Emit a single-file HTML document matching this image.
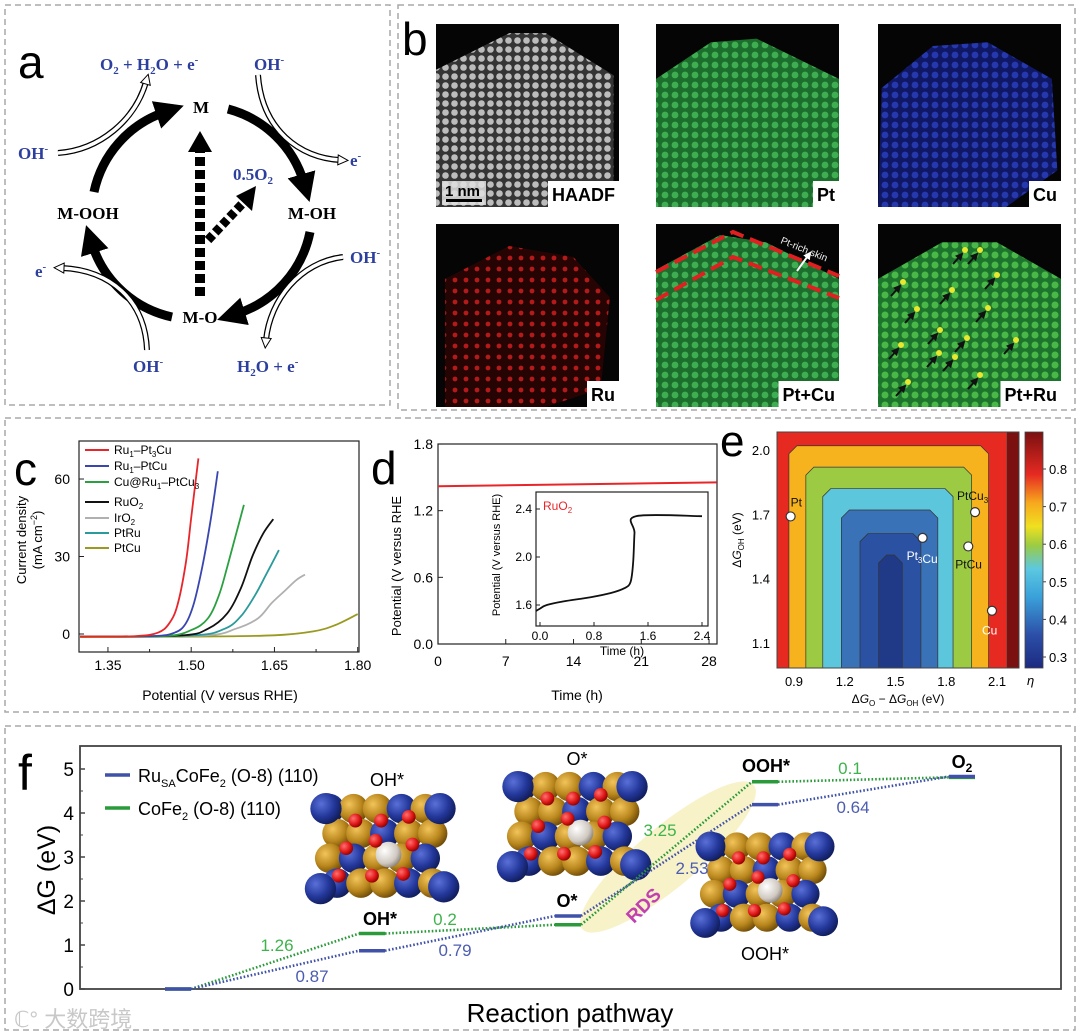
<!DOCTYPE html>
<html><head><meta charset="utf-8">
<style>
html,body{margin:0;padding:0;background:#fff;}
svg{display:block;font-family:"Liberation Sans",sans-serif;}
.ser{font-family:"Liberation Serif",serif;font-weight:bold;}
</style></head>
<body>
<svg id="fig" width="1080" height="1036" viewBox="0 0 1080 1036" xmlns="http://www.w3.org/2000/svg">
<defs>
  <marker id="blackHead" markerWidth="3.2" markerHeight="3.2" refX="1" refY="1.6" orient="auto" markerUnits="strokeWidth"><path d="M0,0 L3.2,1.6 L0,3.2 Z" fill="#000"/></marker>
  <marker id="hollowHead" markerWidth="12" markerHeight="12" refX="3" refY="6" orient="auto" markerUnits="userSpaceOnUse"><path d="M1,1 L11,6 L1,11 Z" fill="#fff" stroke="#000" stroke-width="1"/></marker>
  <marker id="smallBlack" markerWidth="8" markerHeight="8" refX="6" refY="4" orient="auto" markerUnits="userSpaceOnUse"><path d="M0,0 L8,4 L0,8 Z" fill="#111"/></marker>
  <marker id="smallWhite" markerWidth="8" markerHeight="8" refX="6" refY="4" orient="auto" markerUnits="userSpaceOnUse"><path d="M0,0 L8,4 L0,8 Z" fill="#fff"/></marker>
  <pattern id="pGrey" width="9" height="9" patternUnits="userSpaceOnUse"><rect width="9" height="9" fill="#3a3a3a"/><circle cx="4.5" cy="4.5" r="3.3" fill="#d0d0d0"/></pattern>
  <pattern id="pGreen" width="10" height="10" patternUnits="userSpaceOnUse"><rect width="10" height="10" fill="#1f7a30"/><circle cx="5" cy="5" r="3.4" fill="#45c15a"/></pattern>
  <pattern id="pGreen2" width="10" height="10" patternUnits="userSpaceOnUse"><rect width="10" height="10" fill="#208030"/><circle cx="5" cy="5" r="3.5" fill="#52cc50"/></pattern>
  <pattern id="pBlue" width="10" height="10" patternUnits="userSpaceOnUse"><rect width="10" height="10" fill="#111a70"/><circle cx="5" cy="5" r="3.4" fill="#2a3ec0"/></pattern>
  <pattern id="pRed" width="11" height="11" patternUnits="userSpaceOnUse"><rect width="11" height="11" fill="#2a0404"/><circle cx="4" cy="5" r="2.4" fill="#c81c1c"/></pattern>
  <radialGradient id="gGold" cx="0.35" cy="0.35" r="0.7"><stop offset="0" stop-color="#f2c45a"/><stop offset="0.6" stop-color="#b8861c"/><stop offset="1" stop-color="#6e4a08"/></radialGradient>
  <radialGradient id="gBlue" cx="0.35" cy="0.35" r="0.7"><stop offset="0" stop-color="#5a70d8"/><stop offset="0.6" stop-color="#23379a"/><stop offset="1" stop-color="#101c58"/></radialGradient>
  <radialGradient id="gRed" cx="0.35" cy="0.35" r="0.7"><stop offset="0" stop-color="#ff7070"/><stop offset="0.6" stop-color="#e01818"/><stop offset="1" stop-color="#8a0000"/></radialGradient>
  <radialGradient id="gWhite" cx="0.35" cy="0.35" r="0.7"><stop offset="0" stop-color="#ffffff"/><stop offset="0.7" stop-color="#cfc8c0"/><stop offset="1" stop-color="#8a847c"/></radialGradient>
  <linearGradient id="cbGrad" x1="0" y1="1" x2="0" y2="0">
    <stop offset="0" stop-color="#1c2a80"/><stop offset="0.14" stop-color="#2c4fa8"/><stop offset="0.3" stop-color="#3aa0da"/>
    <stop offset="0.42" stop-color="#5cc8e0"/><stop offset="0.52" stop-color="#9ccb43"/><stop offset="0.6" stop-color="#f0e020"/>
    <stop offset="0.7" stop-color="#f7a81e"/><stop offset="0.82" stop-color="#e62a22"/><stop offset="1" stop-color="#7a1010"/>
  </linearGradient>
</defs>

<g fill="none" stroke="#a8a8a8" stroke-width="1.5" stroke-dasharray="6,4">
  <rect x="5" y="5" width="385" height="400"/>
  <rect x="398" y="5" width="677" height="405"/>
  <rect x="5" y="418" width="1070" height="294"/>
  <rect x="5" y="726" width="1070" height="304"/>
</g>

<!-- ============ PANEL A ============ -->
<g>
  <text x="18" y="78" font-size="46">a</text>
  <g fill="none" stroke="#000" stroke-width="9" marker-end="url(#blackHead)">
    <path d="M94,192 A108,108 0 0 1 165,112"/>
    <path d="M228,109 A108,108 0 0 1 304,183"/>
    <path d="M310,232 A108,108 0 0 1 236,314"/>
    <path d="M172,317 A108,108 0 0 1 92,244"/>
  </g>
  <g fill="none">
    <g><path d="M58,153 C100,150 135,120 146,82" stroke="#000" stroke-width="6"/><path d="M58,153 C100,150 135,120 146,82" stroke="#fff" stroke-width="3.5" marker-end="url(#hollowHead)"/></g>
    <g><path d="M258,75 C262,130 300,158 340,160" stroke="#000" stroke-width="6"/><path d="M258,75 C262,130 300,158 340,160" stroke="#fff" stroke-width="3.5" marker-end="url(#hollowHead)"/></g>
    <g><path d="M343,257 C300,262 270,300 266,340" stroke="#000" stroke-width="6"/><path d="M343,257 C300,262 270,300 266,340" stroke="#fff" stroke-width="3.5" marker-end="url(#hollowHead)"/></g>
    <g><path d="M147,350 C145,300 110,270 62,268" stroke="#000" stroke-width="6"/><path d="M147,350 C145,300 110,270 62,268" stroke="#fff" stroke-width="3.5" marker-end="url(#hollowHead)"/></g>
  </g>
  <line x1="200" y1="296" x2="200" y2="152" stroke="#000" stroke-width="10" stroke-dasharray="9,4"/>
  <path d="M188,152 L212,152 L200,131 Z" fill="#000"/>
  <line x1="208" y1="240" x2="243" y2="203" stroke="#000" stroke-width="9" stroke-dasharray="7,3.5"/>
  <path d="M236,196 L252,211 L256,186 Z" fill="#000"/>
  <g class="ser" font-size="17" fill="#000" text-anchor="middle">
    <text x="201" y="113">M</text>
    <text x="312" y="219">M-OH</text>
    <text x="200" y="323">M-O</text>
    <text x="88" y="219">M-OOH</text>
  </g>
  <g class="ser" font-size="17" fill="#2c3f9e">
    <text x="100" y="70">O<tspan font-size="11" dy="4">2</tspan><tspan dy="-4"> + H</tspan><tspan font-size="11" dy="4">2</tspan><tspan dy="-4">O + e</tspan><tspan font-size="11" dy="-7">-</tspan></text>
    <text x="254" y="70">OH<tspan font-size="11" dy="-7">-</tspan></text>
    <text x="18" y="159">OH<tspan font-size="11" dy="-7">-</tspan></text>
    <text x="350" y="166">e<tspan font-size="11" dy="-7">-</tspan></text>
    <text x="233" y="180">0.5O<tspan font-size="11" dy="4">2</tspan></text>
    <text x="350" y="263">OH<tspan font-size="11" dy="-7">-</tspan></text>
    <text x="35" y="277">e<tspan font-size="11" dy="-7">-</tspan></text>
    <text x="133" y="372">OH<tspan font-size="11" dy="-7">-</tspan></text>
    <text x="237" y="372">H<tspan font-size="11" dy="4">2</tspan><tspan dy="-4">O + e</tspan><tspan font-size="11" dy="-7">-</tspan></text>
  </g>
</g>

<g id="panelB">
  <text x="402" y="55" font-size="46">b</text>
</g>

<g id="panelC"></g>
<g id="panelD"></g>
<g id="panelE"></g>
<g id="panelF"></g>

<text x="14" y="1027" font-size="22" fill="#c8c8c8" font-family="'Liberation Sans','Noto Sans CJK SC',sans-serif">ℂ° 大数跨境</text>
</svg>

<script>
// ---------- Panel c data ----------
const cSeriesNames = ["Ru1-Pt3Cu","Ru1-PtCu","Cu@Ru1-PtCu3","RuO2","IrO2","PtRu","PtCu"];
const cRedV   = [1.30,1.40,1.44,1.46,1.475,1.49,1.50,1.513];
const cRedJ   = [-1,-0.8,0.5,4,11,27,45,68];
const cBlueV  = [1.30,1.43,1.47,1.49,1.505,1.52,1.535,1.548];
const cBlueJ  = [-1,-0.8,0.5,4,12,26,44,63];
const cGreenV = [1.30,1.45,1.50,1.53,1.55,1.565,1.58,1.595];
const cGreenJ = [-1,-0.8,1.5,6,15,26,38,50];
const cBlackV = [1.30,1.48,1.53,1.565,1.59,1.61,1.63,1.648];
const cBlackJ = [-1,-0.6,2,8,18,30,39,44.5];
const cTealV  = [1.30,1.50,1.56,1.59,1.615,1.635,1.658];
const cTealJ  = [-1,-0.6,2,7,15,23,32.5];
const cGreyV  = [1.30,1.52,1.58,1.62,1.645,1.67,1.69,1.705];
const cGreyJ  = [-1,-0.6,2,6,12,17,21,23];
const cOliveV = [1.30,1.50,1.65,1.72,1.76,1.80];
const cOliveJ = [-1.2,-1,-0.5,1,3.5,7.7];
const cXTicks = [1.35,1.50,1.65,1.80];
const cYTicks = [0,30,60];
// ---------- Panel d data ----------
const dTime = [0,28.8];
const dPot  = [1.42,1.455];
const dXTicks = [0,7,14,21,28];
const dYTicks = [0.0,0.6,1.2,1.8];
const dInsetT = [-0.06,0.0,0.1,0.35,0.75,1.05,1.25,1.34,1.38,1.40,1.42,2.4];
const dInsetE = [1.55,1.57,1.60,1.63,1.665,1.70,1.74,1.79,1.95,2.2,2.34,2.34];
const dInsetXTicks = [0.0,0.8,1.6,2.4];
const dInsetYTicks = [1.6,2.0,2.4];
// ---------- Panel e data ----------
const eBandEta  = [0.9,0.7,0.6,0.5,0.4,0.35,0.3];
const eBandX0   = [2.16,0.87,0.97,1.07,1.18,1.29,1.40];
const eBandX1   = [2.35,2.05,1.95,1.84,1.75,1.65,1.54];
const eBandTop  = [2.09,2.02,1.92,1.82,1.72,1.61,1.51];
const ePtNames  = ["Pt","PtCu3","Pt3Cu","PtCu","Cu"];
const ePtX      = [0.88,1.97,1.66,1.93,2.07];
const ePtY      = [1.69,1.71,1.59,1.55,1.25];
const eXTicks = [0.9,1.2,1.5,1.8,2.1];
const eYTicks = [1.1,1.4,1.7,2.0];
const eCbTicks = [0.3,0.4,0.5,0.6,0.7,0.8];
// ---------- Panel f data ----------
const fStates = ["*","OH*","O*","OOH*","O2"];
const fGreen  = [0,1.26,1.46,4.71,4.81];
const fBlue   = [0,0.87,1.66,4.19,4.83];
const fGreenSteps = ["1.26","0.2","3.25","0.1"];
const fBlueSteps  = ["0.87","0.79","2.53","0.64"];
const fYTicks = [0,1,2,3,4,5];

const NS='http://www.w3.org/2000/svg';
function mk(tag, attrs, parent){ const e=document.createElementNS(NS,tag); for(const k in attrs) e.setAttribute(k,attrs[k]); parent.appendChild(e); return e; }
function smooth(pts){ let d=`M${pts[0][0]},${pts[0][1]}`; for(let i=0;i<pts.length-1;i++){const p0=pts[i-1]||pts[i],p1=pts[i],p2=pts[i+1],p3=pts[i+2]||p2; const c1=[p1[0]+(p2[0]-p0[0])/6,p1[1]+(p2[1]-p0[1])/6]; const c2=[p2[0]-(p3[0]-p1[0])/6,p2[1]-(p3[1]-p1[1])/6]; d+=` C${c1[0].toFixed(1)},${c1[1].toFixed(1)} ${c2[0].toFixed(1)},${c2[1].toFixed(1)} ${p2[0].toFixed(1)},${p2[1].toFixed(1)}`;} return d;}
function txt(parent, x, y, s, size, extra){ const t=mk('text',Object.assign({x:x,y:y,'font-size':size},extra||{}),parent); t.innerHTML=s; return t; }

// ================= PANEL B =================
(function(){
  const B=document.getElementById('panelB');
  const cols=[436,656,878], rows=[24,224], W=183, H=183;
  const imgs=[
    {n:'HAADF',f:'url(#pGrey)',r:0,c:0,shape:[[0,0.25],[0.4,0.05],[0.6,0.05],[0.97,0.28],[0.97,1],[0,1]]},
    {n:'Pt',f:'url(#pGreen)',r:0,c:1,shape:[[0,0.3],[0.3,0.1],[0.55,0.08],[1,0.3],[1,1],[0,1]]},
    {n:'Cu',f:'url(#pBlue)',r:0,c:2,shape:[[0.02,0.35],[0.3,0.12],[0.6,0.1],[0.95,0.3],[0.98,0.8],[0.7,1],[0,1]]},
    {n:'Ru',f:'url(#pRed)',r:1,c:0,shape:[[0.05,0.3],[0.4,0.12],[0.75,0.18],[0.95,0.4],[0.9,0.9],[0.6,1],[0.05,1]]},
    {n:'Pt+Cu',f:'url(#pGreen)',r:1,c:1,shape:[[0,0.25],[0.35,0.06],[0.6,0.1],[1,0.3],[1,1],[0,1]]},
    {n:'Pt+Ru',f:'url(#pGreen2)',r:1,c:2,shape:[[0,0.3],[0.35,0.1],[0.65,0.1],[1,0.3],[1,1],[0,1]]}
  ];
  imgs.forEach(im=>{
    const x=cols[im.c], y=rows[im.r];
    const g=mk('g',{},B);
    
    
    mk('rect',{x:x,y:y,width:W,height:H,fill:'#050505'},g);
    mk('polygon',{points:im.shape.map(p=>`${x+p[0]*W},${y+p[1]*H}`).join(' '),fill:im.f,opacity:0.9},g);
    const box=mk('rect',{x:x+W-40,y:y+H-26,width:40,height:26,fill:'#fff'},g);
    const t=txt(g,x+W-4,y+H-6,im.n,18,{'font-weight':'bold','text-anchor':'end'});
    
    
    let w=40; try{ w=t.getComputedTextLength()+8; }catch(e){}
    box.setAttribute('x',x+W-w); box.setAttribute('width',w);
  });
  const sb=mk('g',{},B);
  
  
  mk('rect',{x:442,y:181,width:44,height:24,fill:'#e0e0e0',opacity:0.85},sb);
  txt(sb,445,196,'1 nm',15,{'font-weight':'bold'});
  mk('rect',{x:446,y:199,width:36,height:3,fill:'#000'},sb);
  const sk=mk('g',{fill:'none',stroke:'#e02020','stroke-width':4,'stroke-dasharray':'14,7'},B);
  
  
  mk('polyline',{points:'656,272 733,232 839,276'},sk);
  mk('polyline',{points:'656,300 733,257 839,298'},sk);
  const ar=mk('line',{x1:797,y1:271,x2:810,y2:253,stroke:'#fff','stroke-width':2,'marker-end':'url(#smallWhite)'},B);
  
  
  const skt=txt(B,780,243,'Pt-rich skin',10,{fill:'#eee',transform:'rotate(22 780 243)'});
  
  
  const spots=[[965,250],[980,250],[997,275],[903,282],[952,290],[988,308],[917,309],[940,330],[967,338],[901,345],[939,353],[955,357],[1016,340],[908,382],[980,375]];
  spots.forEach(s=>{ const c=mk('circle',{cx:s[0],cy:s[1],r:3,fill:'#e8e830'},B);
    
    
    const a=mk('line',{x1:s[0]-12,y1:s[1]+14,x2:s[0]-3,y2:s[1]+4,stroke:'#111','stroke-width':2,'marker-end':'url(#smallBlack)'},B);
    
     });
})();

// ================= PANEL C =================
(function(){
  const P=document.getElementById('panelC');
  const xC=v=>80.2+(v-1.30)*555, yC=j=>634-j*2.583;
  const L=79,T=441,R=359,Bm=652;
  const lab=txt(P,14,485,'c',46);
  
  
  const series=[[cRedV,cRedJ,'#e8262a'],[cBlueV,cBlueJ,'#3a46b0'],[cGreenV,cGreenJ,'#2aa040'],[cBlackV,cBlackJ,'#111'],[cGreyV,cGreyJ,'#b0b0b0'],[cTealV,cTealJ,'#2a9a9a'],[cOliveV,cOliveJ,'#9a9a20']];
  [6,4,5,3,2,1,0].forEach(i=>{
    const s=series[i]; const pts=s[0].map((v,k)=>[xC(v),yC(s[1][k])]);
    const p=mk('path',{d:smooth(pts),fill:'none',stroke:s[2],'stroke-width':1.8},P);
    
    
  });
  const fr=mk('rect',{x:L,y:T,width:R-L,height:Bm-T,fill:'none',stroke:'#222','stroke-width':1.2},P);
  
  
  cXTicks.forEach(v=>{ mk('line',{x1:xC(v),y1:Bm,x2:xC(v),y2:Bm-5,stroke:'#222'},P);
    const t=txt(P,xC(v),670,v.toFixed(2),14,{'text-anchor':'middle'});
    
     });
  [1.425,1.575,1.725].forEach(v=>mk('line',{x1:xC(v),y1:Bm,x2:xC(v),y2:Bm-3,stroke:'#222'},P));
  cYTicks.forEach(v=>{ mk('line',{x1:L,y1:yC(v),x2:L+5,y2:yC(v),stroke:'#222'},P);
    const t=txt(P,L-9,yC(v)+5,String(v),14,{'text-anchor':'end'});
    
     });
  const xt=txt(P,220,700,'Potential (V versus RHE)',14,{'text-anchor':'middle'});
  
  
  const yt=txt(P,0,0,'<tspan x="0" dy="0">Current density</tspan><tspan x="0" dy="16">(mA cm<tspan font-size="9" dy="-5">−2</tspan><tspan dy="5">)</tspan></tspan>',13,{'text-anchor':'middle',transform:'translate(26,540) rotate(-90)'});
  
  
  const labs=['Ru<tspan font-size="8" dy="3">1</tspan><tspan dy="-3">–Pt</tspan><tspan font-size="8" dy="3">3</tspan><tspan dy="-3">Cu</tspan>','Ru<tspan font-size="8" dy="3">1</tspan><tspan dy="-3">–PtCu</tspan>','Cu@Ru<tspan font-size="8" dy="3">1</tspan><tspan dy="-3">–PtCu</tspan><tspan font-size="8" dy="3">3</tspan>','RuO<tspan font-size="8" dy="3">2</tspan>','IrO<tspan font-size="8" dy="3">2</tspan>','PtRu','PtCu'];
  const ly=[450,466,482,502,518,533,548];
  [0,1,2,3,4,5,6].forEach((i,k)=>{ const g=mk('g',{},P);
    
    
    mk('line',{x1:85,y1:ly[k],x2:109,y2:ly[k],stroke:series[i][2],'stroke-width':2},g);
    txt(g,114,ly[k]+4,labs[i],12); });
})();

// ================= PANEL D =================
(function(){
  const P=document.getElementById('panelD');
  const xD=t=>438+t*9.68, yD=p=>644-p*111.1;
  const L=438,T=444,R=717,Bm=644;
  const lab=txt(P,371,484,'d',46);
  
  
  const fr=mk('rect',{x:L,y:T,width:R-L,height:Bm-T,fill:'none',stroke:'#222','stroke-width':1.2},P);
  
  
  const ln=mk('line',{x1:xD(dTime[0]),y1:yD(dPot[0]),x2:xD(dTime[1]),y2:yD(dPot[1]),stroke:'#e8262a','stroke-width':2},P);
  
  
  dXTicks.forEach(v=>{ mk('line',{x1:xD(v),y1:Bm,x2:xD(v),y2:Bm-5,stroke:'#222'},P);
    const t=txt(P,xD(v),666,String(v),14,{'text-anchor':'middle'});
    
     });
  dYTicks.forEach(v=>{ mk('line',{x1:L,y1:yD(v),x2:L+5,y2:yD(v),stroke:'#222'},P);
    const t=txt(P,L-5,yD(v)+5,v.toFixed(1),14,{'text-anchor':'end'});
    
     });
  const xt=txt(P,577,700,'Time (h)',14,{'text-anchor':'middle'});
  
  
  const yt=txt(P,0,0,'Potential (V versus RHE',13,{'text-anchor':'middle',transform:'translate(401,566) rotate(-90)'});
  
  
  const xI=t=>540+t*67.5, yI=p=>605-(p-1.6)*120;
  const iL=536,iT=492,iR=708,iB=626;
  const ir=mk('rect',{x:iL,y:iT,width:iR-iL,height:iB-iT,fill:'#fff',stroke:'#222','stroke-width':1.2},P);
  
  
  const ip=mk('path',{d:smooth(dInsetT.map((t,k)=>[xI(t),yI(dInsetE[k])])),fill:'none',stroke:'#111','stroke-width':1.8},P);
  
  
  dInsetXTicks.forEach(v=>{ mk('line',{x1:xI(v),y1:iB,x2:xI(v),y2:iB-4,stroke:'#222'},P);
    const t=txt(P,xI(v),640,v.toFixed(1),12,{'text-anchor':'middle'});
    
     });
  dInsetYTicks.forEach(v=>{ mk('line',{x1:iL,y1:yI(v),x2:iL+4,y2:yI(v),stroke:'#222'},P);
    const t=txt(P,iL-4,yI(v)+4,v.toFixed(1),12,{'text-anchor':'end'});
    
     });
  const ix=txt(P,622,655,'Time (h)',12,{'text-anchor':'middle'});
  
  
  const iy=txt(P,0,0,'Potential (V versus RHE)',11,{'text-anchor':'middle',transform:'translate(500,555) rotate(-90)'});
  
  
  const rl=txt(P,543,510,'RuO<tspan font-size="8" dy="3">2</tspan>',12,{fill:'#e8262a'});
  
  
})();

// ================= PANEL E =================
(function(){
  const P=document.getElementById('panelE');
  const xE=v=>794+(v-0.9)*169.2, yE=g=>450+(2.0-g)*214.3;
  const L=777,T=432,R=1019,Bm=668;
  const clip=mk('clipPath',{id:'eClip'},P); mk('rect',{x:L,y:T,width:R-L,height:Bm-T},clip);
  const lab=txt(P,720,456,'e',44);
  
  
  const cg=mk('g',{'clip-path':'url(#eClip)'},P);
  const colors={0.9:'#7a1010',0.7:'#f7b31e',0.6:'#9ccb43',0.5:'#5cc6dc',0.4:'#3a72b8',0.35:'#2b52a2',0.3:'#203a88'};
  const bg=mk('rect',{x:L,y:T,width:R-L,height:Bm-T,fill:'#e62a22'},cg);
  
  
  eBandEta.forEach((eta,i)=>{
    const x0=xE(eBandX0[i]), x1=xE(eBandX1[i]), yt=yE(eBandTop[i]), c=eta===0.9?0:8;
    const pts=[[x0,Bm+2],[x0,yt+c],[x0+c,yt],[x1-c,yt],[x1,yt+c],[x1,Bm+2]];
    const p=mk('polygon',{points:pts.map(q=>q.join(',')).join(' '),fill:colors[eta],stroke:'#333','stroke-width':0.7},cg);
    
    
  });
  const fr=mk('rect',{x:L,y:T,width:R-L,height:Bm-T,fill:'none',stroke:'#444','stroke-width':1},P);
  
  
  const lp=[[0,-10,4],[-18,-12,4],[-16,22,0],[-13,22,0],[-10,24,0]];
  const lc=['#111','#111','#fff','#111','#fff'];
  ePtNames.forEach((n,i)=>{
    const c=mk('circle',{cx:xE(ePtX[i]),cy:yE(ePtY[i]),r:4.5,fill:'#fff',stroke:'#333','stroke-width':1.2},P);
    
    
    const s=n.replace(/(\d)/g,'<tspan font-size="8" dy="3">$1</tspan><tspan dy="-3"></tspan>');
    const t=txt(P,xE(ePtX[i])+lp[i][0],yE(ePtY[i])+lp[i][1],s,12,{fill:lc[i]});
    
    
  });
  eXTicks.forEach(v=>{ const t=txt(P,xE(v),686,v.toFixed(1),13,{'text-anchor':'middle'});
    
     });
  eYTicks.forEach(v=>{ const t=txt(P,L-7,yE(v)+5,v.toFixed(1),13,{'text-anchor':'end'});
    
     });
  const xt=txt(P,898,703,'Δ<tspan font-style="italic">G</tspan><tspan font-size="8" dy="3">O</tspan><tspan dy="-3"> − Δ</tspan><tspan font-style="italic">G</tspan><tspan font-size="8" dy="3">OH</tspan><tspan dy="-3"> (eV)</tspan>',12,{'text-anchor':'middle'});
  
  
  const yt=txt(P,0,0,'Δ<tspan font-style="italic">G</tspan><tspan font-size="8" dy="3">OH</tspan><tspan dy="-3"> (eV)</tspan>',12,{'text-anchor':'middle',transform:'translate(741,540) rotate(-90)'});
  
  
  const cb=mk('rect',{x:1025,y:432,width:18,height:236,fill:'url(#cbGrad)',stroke:'#444','stroke-width':0.8},P);
  
  
  const yCB=v=>469+(0.8-v)*376;
  eCbTicks.forEach(v=>{ mk('line',{x1:1043,y1:yCB(v),x2:1046,y2:yCB(v),stroke:'#444'},P);
    const t=txt(P,1049,yCB(v)+5,v.toFixed(1),13);
    
     });
  const et=txt(P,1027,685,'η',13,{'font-style':'italic'});
  
  
})();

// ================= PANEL F =================
(function(){
  const P=document.getElementById('panelF');
  const xF=i=>[178,372,568,765,962][i], yF=g=>989-g*44, hw=13;
  const L=80,T=746,R=1061,Bm=989;
  const lab=txt(P,18,790,'f',50);
  
  
  const fr=mk('rect',{x:L,y:T,width:R-L,height:Bm-T,fill:'none',stroke:'#444','stroke-width':1.8},P);
  
  
  const hl=mk('ellipse',{cx:668,cy:857,rx:112,ry:30,fill:'#f7f0c0',opacity:0.85,transform:'rotate(-40 668 857)'},P);
  
  
  fYTicks.forEach(v=>{ mk('line',{x1:L,y1:yF(v),x2:L+5,y2:yF(v),stroke:'#444','stroke-width':1.5},P);
    const t=txt(P,L-6,yF(v)+7,String(v),19,{'text-anchor':'end'});
    
     });
  [0.5,1.5,2.5,3.5,4.5].forEach(v=>mk('line',{x1:L,y1:yF(v),x2:L+3,y2:yF(v),stroke:'#444'},P));
  const yt=txt(P,0,0,'ΔG (eV)',25,{'text-anchor':'middle',transform:'translate(55,870) rotate(-90)'});
  
  
  const xt=txt(P,570,1022,'Reaction pathway',26,{'text-anchor':'middle'});
  
  
  function cluster(cx,cy,name,s){
    const g=mk('g',{transform:`translate(${cx},${cy}) scale(${s})`},P);
    
    
    for(let r=0;r<4;r++) for(let c=0;c<5;c++){ const x=-58+c*26+(r%2)*8, y=-45+r*27;
      const blue=(r+c)%3===0; mk('circle',{cx:x,cy:y,r:16,fill:blue?'url(#gBlue)':'url(#gGold)'},g); }
    [[-62,-45],[62,-45],[-68,42],[66,40]].forEach(p=>mk('circle',{cx:p[0],cy:p[1],r:17,fill:'url(#gBlue)'},g));
    mk('circle',{cx:6,cy:5,r:14,fill:'url(#gWhite)'},g);
    [[-30,-32],[-2,-32],[28,-36],[-40,-2],[32,-6],[-12,28],[22,26],[-48,28],[-8,-10]].forEach(p=>mk('circle',{cx:p[0],cy:p[1],r:7.5,fill:'url(#gRed)'},g));
  }
  cluster(383,850,'structure-oh',0.92);
  cluster(575,828,'structure-o',0.92);
  cluster(765,886,'structure-ooh',0.88);
  const sl=[[387,786,'OH*'],[577,765,'O*'],[765,960,'OOH*']];
  sl.forEach(s=>{ const t=txt(P,s[0],s[1],s[2],18,{'text-anchor':'middle'});
    
     });
  const seriesF=[[fGreen,'#2a9a3a'],[fBlue,'#3f51a8']];
  seriesF.forEach((s,si)=>{
    for(let i=0;i<s[0].length-1;i++){
      const c=mk('line',{x1:xF(i)+hw,y1:yF(s[0][i]),x2:xF(i+1)-hw,y2:yF(s[0][i+1]),stroke:s[1],'stroke-width':2.6,'stroke-dasharray':'1.6,2'},P);
      
      
    }
    s[0].forEach((v,i)=>{ const l=mk('line',{x1:xF(i)-hw,y1:yF(v),x2:xF(i)+hw,y2:yF(v),stroke:s[1],'stroke-width':3.5},P);
      
       });
  });
  const gPos=[[277,951],[445,925],[660,836],[850,774]], bPos=[[312,982],[455,956],[692,874],[853,813]];
  fGreenSteps.forEach((s,i)=>{ const t=txt(P,gPos[i][0],gPos[i][1],s,17,{fill:'#3cb44a','text-anchor':'middle'});
    
     });
  fBlueSteps.forEach((s,i)=>{ const t=txt(P,bPos[i][0],bPos[i][1],s,17,{fill:'#4c5cb0','text-anchor':'middle'});
    
     });
  const rds=txt(P,648,910,'RDS',19,{fill:'#c040b0','font-weight':'bold','text-anchor':'middle',transform:'rotate(-45 648 910)'});
  
  
  const stl=[[380,925,'OH*'],[567,907,'O*'],[766,772,'OOH*'],[962,768,'O<tspan font-size="12" dy="4">2</tspan>']];
  stl.forEach(s=>{ const t=txt(P,s[0],s[1],s[2],18,{'font-weight':'bold','text-anchor':'middle'});
    
     });
  const lg=[[775,'#3f51a8','Ru<tspan font-size="11" dy="5">SA</tspan><tspan dy="-5">CoFe</tspan><tspan font-size="11" dy="5">2</tspan><tspan dy="-5"> (O-8) (110)</tspan>'],[808,'#2a9a3a','CoFe<tspan font-size="11" dy="5">2</tspan><tspan dy="-5"> (O-8) (110)</tspan>']];
  lg.forEach(l=>{ const g=mk('g',{},P);
    
    
    mk('line',{x1:105,y1:l[0],x2:130,y2:l[0],stroke:l[1],'stroke-width':3.5},g);
    txt(g,138,l[0]+7,l[2],18); });
})();
</script>
</body></html>
